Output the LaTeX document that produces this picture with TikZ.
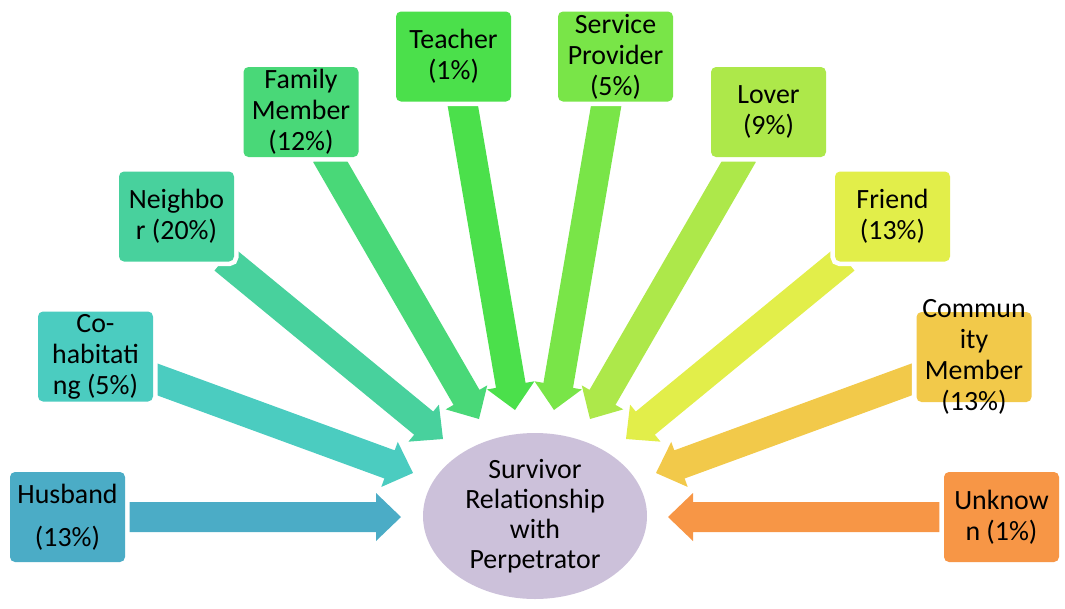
\documentclass[tikz,border=0pt]{standalone}
\usepackage{fontspec}
\setmainfont{Carlito}
\usetikzlibrary{calc,shapes.geometric,backgrounds}
\definecolor{cHus}{HTML}{4BACC6}
\definecolor{cCoh}{HTML}{4BCCC0}
\definecolor{cNei}{HTML}{48D19D}
\definecolor{cFam}{HTML}{49D878}
\definecolor{cTea}{HTML}{4BE04B}
\definecolor{cSer}{HTML}{79E548}
\definecolor{cLov}{HTML}{ADE84A}
\definecolor{cFri}{HTML}{E2EE4A}
\definecolor{cCom}{HTML}{F2C94A}
\definecolor{cUnk}{HTML}{F79646}
\definecolor{cEll}{HTML}{CCC1DA}
\tikzset{
  relbox/.style={rectangle, rounded corners=3.75pt, minimum width=86.25pt, minimum height=67.5pt, inner sep=0pt, fill=#1, preaction={draw=white, line width=7pt}},
  lbl/.style={align=center, inner sep=0pt, text=black, font=\fontsize{20.9pt}{23.25pt}\selectfont},
  hub/.style={ellipse, fill=cEll, minimum width=168pt, minimum height=124.5pt, inner sep=0pt},
}
\newcommand{\blockarr}[3]{%
  \coordinate (ba-h) at ($(#2)!18.75pt!(#1)$);
  \fill[#3] ($(#1)!11.25pt!90:(#2)$) -- ($(ba-h)!11.25pt!90:(#2)$) -- ($(ba-h)!18pt!90:(#2)$) -- (#2) -- ($(ba-h)!18pt!-90:(#2)$) -- ($(ba-h)!11.25pt!-90:(#2)$) -- ($(#1)!11.25pt!-90:(#2)$) -- cycle;
}
\begin{document}
\begin{tikzpicture}[x=0.75pt,y=-0.75pt]
\useasboundingbox (0,0) rectangle (1065,608);
% boxes
\node[relbox=cHus] (hus) at (67.5,517) {};
\node[relbox=cCoh] (coh) at (95.5,356.5) {};
\node[relbox=cNei] (nei) at (176.5,216.5) {};
\node[relbox=cFam] (fam) at (301,112) {};
\node[relbox=cTea] (tea) at (453.5,56.5) {};
\node[relbox=cSer] (ser) at (615.5,56.5) {};
\node[relbox=cLov] (lov) at (768.5,112) {};
\node[relbox=cFri] (fri) at (892.5,216.5) {};
\node[relbox=cCom] (com) at (974,357) {};
\node[relbox=cUnk] (unk) at (1001.5,517) {};
% hub
\node[hub] (hubn) at (535,516) {};
% labels
\node[lbl] (thus) at (hus.center) {Husband\\[9pt](13\%)};
\node[lbl] (tcoh) at (coh.center) {Co-\\habitati\\ng (5\%)};
\node[lbl] (tnei) at (nei.center) {Neighbo\\r (20\%)};
\node[lbl] (tfam) at (fam.center) {Family\\Member\\(12\%)};
\node[lbl] (ttea) at (tea.center) {Teacher\\(1\%)};
\node[lbl] (tser) at (ser.center) {Service\\Provider\\(5\%)};
\node[lbl] (tlov) at (lov.center) {Lover\\(9\%)};
\node[lbl] (tfri) at (fri.center) {Friend\\(13\%)};
\node[lbl] (tcom) at (com.center) {Commun\\ity\\Member\\(13\%)};
\node[lbl] (tunk) at (unk.center) {Unknow\\n (1\%)};
\node[lbl, font=\fontsize{20.9pt}{22.5pt}\selectfont] (thub) at (hubn.center) {Survivor\\Relationship\\with\\Perpetrator};
% arrow ends
\coordinate (a1) at (120,517);   \coordinate (b1) at (401,517);
\coordinate (a2) at (149.6,376.6); \coordinate (b2) at (413,473);
\coordinate (a3) at (224,259);   \coordinate (b3) at (443,439);
\coordinate (a4) at (326,154.3); \coordinate (b4) at (479,419);
\coordinate (a5) at (461.5,98);  \coordinate (b5) at (515,410);
\coordinate (a6) at (607.5,98);  \coordinate (b6) at (554,410);
\coordinate (a7) at (743,154.3); \coordinate (b7) at (590,419);
\coordinate (a8) at (845,259);   \coordinate (b8) at (626,439);
\coordinate (a9) at (919.4,376.6); \coordinate (b9) at (656,473);
\coordinate (a10) at (949,517);  \coordinate (b10) at (668,517);
\begin{pgfonlayer}{background}
\blockarr{a1}{b1}{cHus}
\blockarr{a2}{b2}{cCoh}
\blockarr{a3}{b3}{cNei}
\blockarr{a4}{b4}{cFam}
\blockarr{a5}{b5}{cTea}
\blockarr{a6}{b6}{cSer}
\blockarr{a7}{b7}{cLov}
\blockarr{a8}{b8}{cFri}
\blockarr{a9}{b9}{cCom}
\blockarr{a10}{b10}{cUnk}
\end{pgfonlayer}
\end{tikzpicture}
\end{document}
